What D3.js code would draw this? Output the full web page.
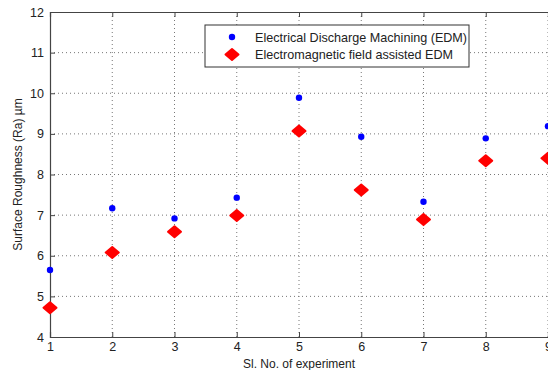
<!DOCTYPE html>
<html>
<head>
<meta charset="utf-8">
<script src="https://cdn.jsdelivr.net/npm/d3@7"></script>
<style>
  body { margin: 0; background: #fff; }
  text { font-family: Arial, "Liberation Sans", sans-serif; }
</style>
</head>
<body>
<svg id="chart" width="548" height="370"></svg>
<script>
// data
var experiments = [1, 2, 3, 4, 5, 6, 7, 8, 9];
var edm = [5.65, 7.17, 6.92, 7.43, 9.89, 8.93, 7.33, 8.89, 9.19];
var emEdm = [4.72, 6.08, 6.59, 6.99, 9.07, 7.62, 6.89, 8.34, 8.40];
var xTicks = [1, 2, 3, 4, 5, 6, 7, 8, 9];
var yTicks = [4, 5, 6, 7, 8, 9, 10, 11, 12];
var seriesNames = ["Electrical Discharge Machining (EDM)", "Electromagnetic field assisted EDM"];

var svg = d3.select("#chart");
var margin = {top: 12, right: 0, bottom: 33, left: 50};
var width = 548 - margin.left - margin.right;
var height = 370 - margin.top - margin.bottom;

var x = d3.scaleLinear().domain([1, 9]).range([0, width]);
var y = d3.scaleLinear().domain([4, 12]).range([height, 0]);

var g = svg.append("g").attr("transform", "translate(" + margin.left + "," + margin.top + ")");

// grid
g.append("g").selectAll("line").data(xTicks.slice(1)).enter().append("line")
    .attr("x1", function(d) { return x(d); }).attr("x2", function(d) { return x(d); })
    .attr("y1", 0).attr("y2", height)
    .attr("stroke", "#777").attr("stroke-width", 1).attr("stroke-dasharray", "1,3");
g.append("g").selectAll("line").data(yTicks.slice(1, -1)).enter().append("line")
    .attr("x1", 0).attr("x2", width)
    .attr("y1", function(d) { return y(d); }).attr("y2", function(d) { return y(d); })
    .attr("stroke", "#777").attr("stroke-width", 1).attr("stroke-dasharray", "1,3");

// axes (ticks point inward)
var xAxis = g.append("g").attr("transform", "translate(0," + height + ")")
    .call(d3.axisBottom(x).tickValues(xTicks).tickSize(-5).tickPadding(5).tickFormat(d3.format("d")));
var yAxis = g.append("g")
    .call(d3.axisLeft(y).tickValues(yTicks).tickSize(-5).tickPadding(6).tickFormat(d3.format("d")));
g.append("g")
    .call(d3.axisTop(x).tickValues(xTicks).tickSize(-5).tickFormat(""));
[xAxis, yAxis].forEach(function(a) {
    a.selectAll("text").attr("font-size", 12.5).attr("fill", "#222");
});
g.selectAll(".domain").attr("stroke", "#444").attr("stroke-width", 1.2);
g.selectAll(".tick line").attr("stroke", "#444");

// axis titles
svg.append("text")
    .attr("x", margin.left + x(5)).attr("y", 368)
    .attr("text-anchor", "middle").attr("font-size", 12).attr("fill", "#222")
    .text("Sl. No. of experiment");
svg.append("text")
    .attr("transform", "translate(22," + (margin.top + height / 2) + ") rotate(-90)")
    .attr("text-anchor", "middle").attr("font-size", 12).attr("fill", "#222")
    .text("Surface Roughness (Ra) µm");

// markers
var diamond = "M0,-5.5L6.5,0L0,5.5L-6.5,0Z";

g.selectAll(".em").data(experiments).enter().append("path")
    .attr("class", "em")
    .attr("transform", function(d, i) { return "translate(" + x(d) + "," + y(emEdm[i]) + ")"; })
    .attr("d", diamond)
    .attr("fill", "#ff0000").attr("stroke", "#ff0000")
    .attr("stroke-width", 2).attr("stroke-linejoin", "round");

g.selectAll(".edm").data(experiments).enter().append("circle")
    .attr("class", "edm")
    .attr("cx", function(d) { return x(d); })
    .attr("cy", function(d, i) { return y(edm[i]); })
    .attr("r", 3.2)
    .attr("fill", "#0000ff");

// legend
var leg = svg.append("g").attr("transform", "translate(205,25)");
leg.append("rect").attr("width", 264).attr("height", 42)
    .attr("fill", "#fff").attr("stroke", "#333").attr("stroke-width", 1);
leg.append("circle").attr("cx", 27).attr("cy", 12).attr("r", 3.2).attr("fill", "#0000ff");
leg.append("path").attr("transform", "translate(27,29.5)").attr("d", diamond)
    .attr("fill", "#ff0000").attr("stroke", "#ff0000")
    .attr("stroke-width", 2).attr("stroke-linejoin", "round");
leg.selectAll("text.lbl").data(seriesNames).enter().append("text")
    .attr("class", "lbl")
    .attr("x", 50).attr("y", function(d, i) { return 16.5 + i * 17.5; })
    .attr("font-size", 12.6).attr("fill", "#222")
    .text(function(d) { return d; });
</script>
</body>
</html>
